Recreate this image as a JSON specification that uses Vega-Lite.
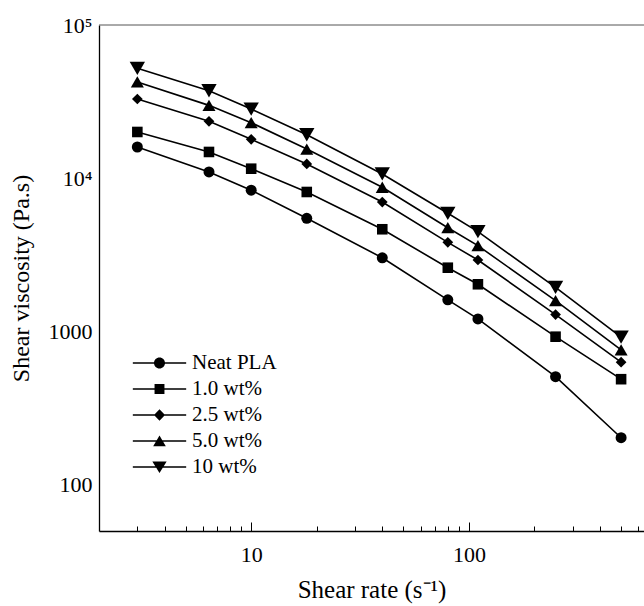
{
  "$schema": "https://vega.github.io/schema/vega-lite/v6.json",
  "width": 545,
  "height": 506,
  "autosize": {"type": "none"},
  "padding": {"left": 99, "top": 25, "right": 0, "bottom": 75},
  "background": "white",
  "config": {"view": {"stroke": null}, "font": "Liberation Serif"},
  "resolve": {"axis": {"x": "independent", "y": "independent"}},
  "datasets": {
    "visc": [
      {"rate": 3, "eta": 16000, "s": "Neat PLA"},
      {"rate": 6.4, "eta": 11000, "s": "Neat PLA"},
      {"rate": 10, "eta": 8360, "s": "Neat PLA"},
      {"rate": 18, "eta": 5480, "s": "Neat PLA"},
      {"rate": 40, "eta": 3030, "s": "Neat PLA"},
      {"rate": 80, "eta": 1610, "s": "Neat PLA"},
      {"rate": 110, "eta": 1210, "s": "Neat PLA"},
      {"rate": 250, "eta": 508, "s": "Neat PLA"},
      {"rate": 500, "eta": 203, "s": "Neat PLA"},
      {"rate": 3, "eta": 20050, "s": "1.0 wt%"},
      {"rate": 6.4, "eta": 14850, "s": "1.0 wt%"},
      {"rate": 10, "eta": 11550, "s": "1.0 wt%"},
      {"rate": 18, "eta": 8140, "s": "1.0 wt%"},
      {"rate": 40, "eta": 4650, "s": "1.0 wt%"},
      {"rate": 80, "eta": 2610, "s": "1.0 wt%"},
      {"rate": 110, "eta": 2035, "s": "1.0 wt%"},
      {"rate": 250, "eta": 926, "s": "1.0 wt%"},
      {"rate": 500, "eta": 489, "s": "1.0 wt%"},
      {"rate": 3, "eta": 32900, "s": "2.5 wt%"},
      {"rate": 6.4, "eta": 23550, "s": "2.5 wt%"},
      {"rate": 10, "eta": 17970, "s": "2.5 wt%"},
      {"rate": 18, "eta": 12400, "s": "2.5 wt%"},
      {"rate": 40, "eta": 7000, "s": "2.5 wt%"},
      {"rate": 80, "eta": 3820, "s": "2.5 wt%"},
      {"rate": 110, "eta": 2930, "s": "2.5 wt%"},
      {"rate": 250, "eta": 1290, "s": "2.5 wt%"},
      {"rate": 500, "eta": 631, "s": "2.5 wt%"},
      {"rate": 3, "eta": 42500, "s": "5.0 wt%"},
      {"rate": 6.4, "eta": 29900, "s": "5.0 wt%"},
      {"rate": 10, "eta": 23060, "s": "5.0 wt%"},
      {"rate": 18, "eta": 15520, "s": "5.0 wt%"},
      {"rate": 40, "eta": 8740, "s": "5.0 wt%"},
      {"rate": 80, "eta": 4760, "s": "5.0 wt%"},
      {"rate": 110, "eta": 3634, "s": "5.0 wt%"},
      {"rate": 250, "eta": 1591, "s": "5.0 wt%"},
      {"rate": 500, "eta": 759, "s": "5.0 wt%"},
      {"rate": 3, "eta": 52200, "s": "10 wt%"},
      {"rate": 6.4, "eta": 37240, "s": "10 wt%"},
      {"rate": 10, "eta": 28300, "s": "10 wt%"},
      {"rate": 18, "eta": 19230, "s": "10 wt%"},
      {"rate": 40, "eta": 10670, "s": "10 wt%"},
      {"rate": 80, "eta": 5910, "s": "10 wt%"},
      {"rate": 110, "eta": 4485, "s": "10 wt%"},
      {"rate": 250, "eta": 1945, "s": "10 wt%"},
      {"rate": 500, "eta": 919, "s": "10 wt%"}
    ],
    "frame": [{"eta": 100000}],
    "yminor": [
      {"v": 60}, {"v": 70}, {"v": 80}, {"v": 90},
      {"v": 200}, {"v": 300}, {"v": 400}, {"v": 500}, {"v": 600}, {"v": 700}, {"v": 800}, {"v": 900},
      {"v": 2000}, {"v": 3000}, {"v": 4000}, {"v": 5000}, {"v": 6000}, {"v": 7000}, {"v": 8000}, {"v": 9000},
      {"v": 20000}, {"v": 30000}, {"v": 40000}, {"v": 50000}, {"v": 60000}, {"v": 70000}, {"v": 80000}, {"v": 90000}
    ],
    "ymajor": [{"v": 100}, {"v": 1000}, {"v": 10000}]
  },
  "encoding": {
    "x": {"field": "rate", "type": "quantitative", "scale": {"type": "log", "domain": [2, 637], "nice": false}, "axis": null},
    "y": {"field": "eta", "type": "quantitative", "scale": {"type": "log", "domain": [50, 100000], "nice": false}, "axis": null}
  },
  "layer": [
    {
      "data": {"name": "frame"},
      "mark": {"type": "rule", "color": "#555555", "strokeWidth": 1},
      "encoding": {
        "x": null,
        "y": {"field": "eta", "type": "quantitative", "scale": {"type": "log", "domain": [50, 100000], "nice": false}, "axis": null}
      }
    },
    {
      "data": {"name": "yminor"},
      "mark": {"type": "rule", "color": "black", "strokeWidth": 1},
      "encoding": {
        "y": {"field": "v", "type": "quantitative", "scale": {"type": "log", "domain": [50, 100000], "nice": false}, "axis": null},
        "x": {"datum": 2, "type": "quantitative", "scale": {"type": "log", "domain": [2, 637], "nice": false}, "axis": null},
        "x2": {"datum": 2.105}
      }
    },
    {
      "data": {"name": "ymajor"},
      "mark": {"type": "rule", "color": "black", "strokeWidth": 1},
      "encoding": {
        "y": {"field": "v", "type": "quantitative", "scale": {"type": "log", "domain": [50, 100000], "nice": false}, "axis": null},
        "x": {"datum": 2, "type": "quantitative", "scale": {"type": "log", "domain": [2, 637], "nice": false}, "axis": null},
        "x2": {"datum": 2.2}
      }
    },
    {
      "data": {"name": "visc"},
      "mark": {"type": "line", "color": "black", "strokeWidth": 1.6},
      "encoding": {
        "x": {
          "field": "rate", "type": "quantitative",
          "scale": {"type": "log", "domain": [2, 637], "nice": false},
          "axis": {
            "orient": "bottom",
            "values": [3,4,5,6,7,8,9,10,20,30,40,50,60,70,80,90,100,200,300,400,500,600],
            "labelExpr": "datum.value == 10 || datum.value == 100 ? '' + datum.value : ''",
            "labelOverlap": false, "labelFlush": false, "labelBound": false,
            "grid": false, "ticks": true,
            "domainColor": "black", "domainWidth": 1.3,
            "tickColor": "black", "tickWidth": 1, "tickSize": -5,
            "labelFont": "Liberation Serif", "labelFontSize": 22, "labelColor": "black", "labelPadding": 18,
            "title": "Shear rate (s⁻¹)",
            "titleFont": "Liberation Serif", "titleFontSize": 25, "titleFontWeight": "normal", "titleColor": "black", "titlePadding": 12
          }
        },
        "y": {
          "field": "eta", "type": "quantitative",
          "scale": {"type": "log", "domain": [50, 100000], "nice": false},
          "axis": {
            "orient": "left",
            "values": [100, 1000, 10000, 100000],
            "labelExpr": "datum.value == 100 ? '100' : datum.value == 1000 ? '1000' : datum.value == 10000 ? '10⁴' : '10⁵'",
            "labelOverlap": false, "labelFlush": false, "labelBound": false,
            "grid": false, "ticks": false,
            "domainColor": "black", "domainWidth": 1.3,
            "labelFont": "Liberation Serif", "labelFontSize": 22, "labelColor": "black", "labelPadding": 7,
            "title": "Shear viscosity (Pa.s)",
            "titleFont": "Liberation Serif", "titleFontSize": 24, "titleFontWeight": "normal", "titleColor": "black", "titlePadding": 15
          }
        },
        "detail": {"field": "s", "type": "nominal"}
      }
    },
    {
      "data": {"name": "visc"},
      "transform": [{"filter": "datum.s == 'Neat PLA'"}],
      "mark": {"type": "point", "shape": "circle", "filled": true, "color": "black", "opacity": 1, "size": 121},
      "encoding": {
        "x": {
          "field": "rate", "type": "quantitative",
          "scale": {"type": "log", "domain": [2, 637], "nice": false},
          "axis": {
            "orient": "bottom",
            "values": [10, 100],
            "labels": false, "domain": false, "grid": false, "title": null,
            "ticks": true, "tickColor": "black", "tickWidth": 1, "tickSize": -9
          }
        }
      }
    },
    {
      "data": {"name": "visc"},
      "transform": [{"filter": "datum.s == '1.0 wt%'"}],
      "mark": {"type": "point", "shape": "square", "filled": true, "color": "black", "opacity": 1, "size": 112}
    },
    {
      "data": {"name": "visc"},
      "transform": [{"filter": "datum.s == '2.5 wt%'"}],
      "mark": {"type": "point", "shape": "diamond", "filled": true, "color": "black", "opacity": 1, "size": 115}
    },
    {
      "data": {"name": "visc"},
      "transform": [{"filter": "datum.s == '5.0 wt%'"}],
      "mark": {"type": "point", "shape": "triangle-up", "filled": true, "color": "black", "opacity": 1, "size": 170}
    },
    {
      "data": {"name": "visc"},
      "transform": [{"filter": "datum.s == '10 wt%'"}],
      "mark": {"type": "point", "shape": "triangle-down", "filled": true, "color": "black", "opacity": 1, "size": 235}
    },
    {
      "data": {"name": "visc"},
      "mark": {"type": "point", "filled": true, "color": "black", "opacity": 0},
      "encoding": {
        "shape": {
          "field": "s", "type": "nominal",
          "scale": {
            "domain": ["Neat PLA", "1.0 wt%", "2.5 wt%", "5.0 wt%", "10 wt%"],
            "range": [
              "M-4.85,-0.13L4.85,-0.13L4.85,0.13L-4.85,0.13ZM1,0A1,1,0,1,1,-1,0A1,1,0,1,1,1,0Z",
              "M-4.85,-0.13L4.85,-0.13L4.85,0.13L-4.85,0.13ZM-0.9,-0.9L0.9,-0.9L0.9,0.9L-0.9,0.9Z",
              "M-4.85,-0.13L4.85,-0.13L4.85,0.13L-4.85,0.13ZM0,-1.05L1,0L0,1.05L-1,0Z",
              "M-4.85,-0.13L4.85,-0.13L4.85,0.13L-4.85,0.13ZM0,-1L1.15,0.95L-1.15,0.95Z",
              "M-4.85,-0.13L4.85,-0.13L4.85,0.13L-4.85,0.13ZM0,1.1L-1.3,-1L1.3,-1Z"
            ]
          },
          "legend": {
            "orient": "none", "legendX": 34, "legendY": 327.5,
            "title": null, "padding": 0, "rowPadding": 4,
            "symbolSize": 121, "symbolOffset": 16, "labelOffset": 22,
            "labelFont": "Liberation Serif", "labelFontSize": 21, "labelColor": "black",
            "symbolFillColor": "black", "symbolOpacity": 1
          }
        }
      }
    }
  ]
}
